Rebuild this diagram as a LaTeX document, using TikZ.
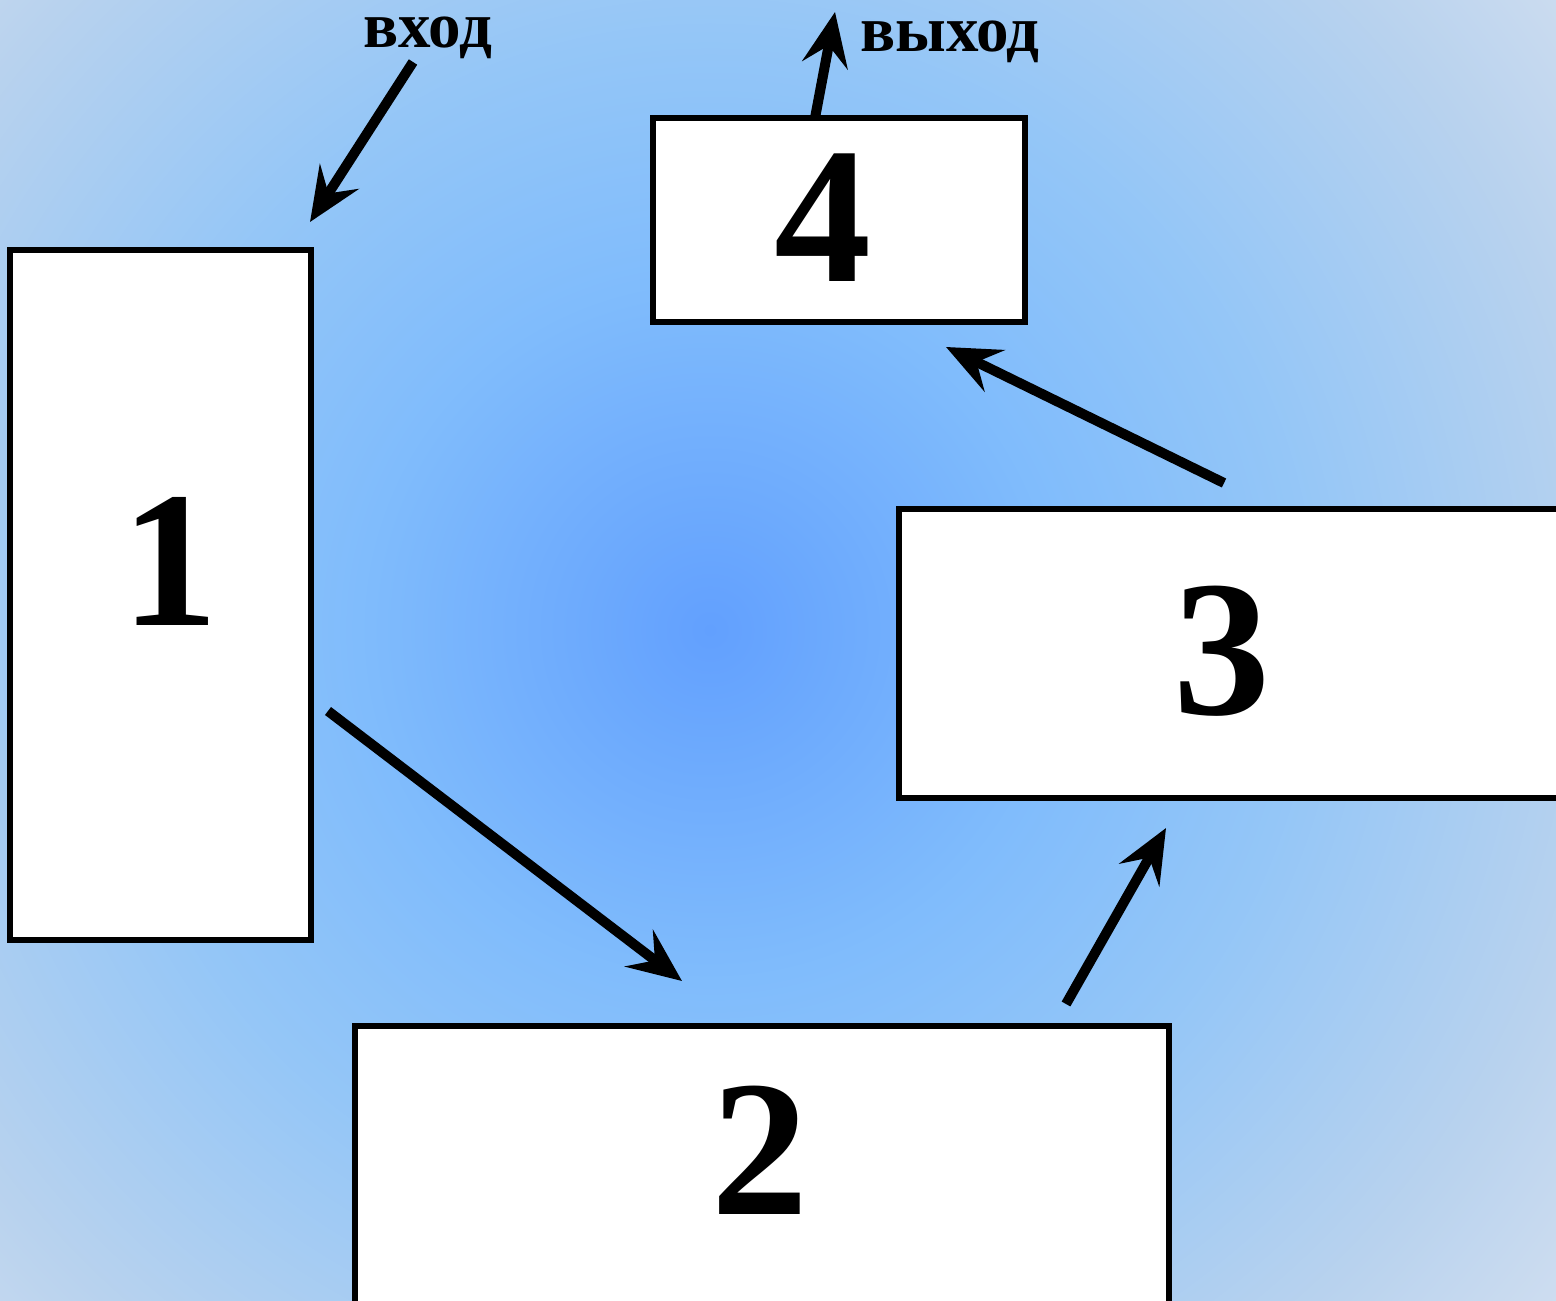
\documentclass[tikz,border=0pt]{standalone}
\usepackage{fontspec}
\setmainfont{Liberation Serif}[BoldFont={Liberation Serif Bold}]
\newfontfamily\timesbold{Liberation Serif Bold}
\usetikzlibrary{arrows.meta}
\definecolor{c0}{RGB}{98,160,254}
\definecolor{c1}{RGB}{128,188,252}
\definecolor{c2}{RGB}{148,198,247}
\definecolor{c3}{RGB}{184,210,238}
\definecolor{c4}{RGB}{208,222,240}
\pgfdeclareradialshading{bgshade}{\pgfpoint{0bp}{0bp}}{%
  color(0bp)=(c0); color(8bp)=(c1); color(13.5bp)=(c2); color(20.5bp)=(c3); color(25bp)=(c4); color(50bp)=(c4)}
\tikzset{
  box/.style={draw=black, line width=2.6pt, fill=white, rectangle, inner sep=0pt},
  digit/.style={font=\timesbold\fontsize{97}{100}\selectfont, anchor=base, inner sep=0pt},
  lbl/.style={font=\timesbold\fontsize{32.5}{36}\selectfont, anchor=base, inner sep=0pt},
  arr/.style={line width=5pt, -{Stealth[length=27pt, width=23pt, inset=10pt]}}
}
\begin{document}
\begin{tikzpicture}[x=0.5pt, y=-0.5pt]
\useasboundingbox (0,0) rectangle (1556,1300);
\clip (0,0) rectangle (1556,1300);
\shade[shading=bgshade] (710,630) circle (1100);
% boxes
\node[box, minimum width=150.5pt, minimum height=345pt] (b1) at (160.5,595) {};
\node[box, minimum width=186pt, minimum height=102pt] (b4) at (839,220) {};
\node[box, minimum width=360.5pt, minimum height=144.5pt] (b3) at (1259.5,653.5) {};
\node[box, minimum width=407pt, minimum height=157pt] (b2) at (762,1183) {};
% digits
\node[digit] (d1) at (170,625) {1};
\node[digit] (d4) at (823,281) {4};
\node[digit] (d3) at (1222,714) {3};
\node[digit] (d2) at (760,1214) {2};
% labels
\node[lbl] (in) at (428,48) {вход};
\node[lbl] (out) at (950,52) {выход};
% arrow endpoints
\coordinate (inS) at (413,62);
\coordinate (inE) at (310,222);
\coordinate (outS) at (815,118);
\coordinate (outE) at (835,12);
\coordinate (a12S) at (328,711);
\coordinate (a12E) at (682,981);
\coordinate (a23S) at (1066,1004);
\coordinate (a23E) at (1166,828);
\coordinate (a34S) at (1224,483);
\coordinate (a34E) at (946,347);
\draw[arr] (inS) -- (inE);
\draw[arr] (outS) -- (outE);
\draw[arr] (a12S) -- (a12E);
\draw[arr] (a23S) -- (a23E);
\draw[arr] (a34S) -- (a34E);
\end{tikzpicture}
\end{document}
